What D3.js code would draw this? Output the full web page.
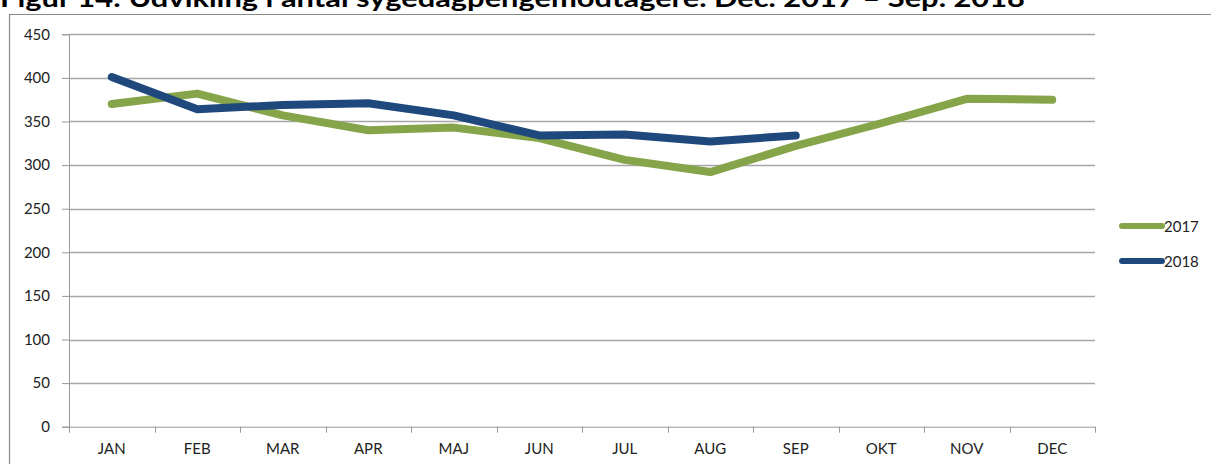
<!DOCTYPE html>
<html>
<head>
<meta charset="utf-8">
<script src="https://cdn.jsdelivr.net/npm/d3@7"></script>
<style>
  body { margin: 0; background: #fff; }
  svg { display: block; }
  .tick text { font-family: Lato, sans-serif; font-size: 15px; fill: #222; }
</style>
</head>
<body>
<script>
var W = 1211, H = 464;

var months = ["JAN","FEB","MAR","APR","MAJ","JUN","JUL","AUG","SEP","OKT","NOV","DEC"];
var v2017 = [370, 382, 357, 340, 343, 331, 306, 292, 322, 348, 376, 375];
var v2018 = [401, 364, 369, 371, 357, 334, 335, 327, 334];
var yTicks = [0, 50, 100, 150, 200, 250, 300, 350, 400, 450];
var seriesNames = ["2017", "2018"];
var colors = ["#86a44a", "#1f497d"];

// plot area edges (don't use "top" - clashes with window.top)
var plotL = 69, plotR = 1095, plotT = 34.3, plotB = 426.7;

var svg = d3.select("body").append("svg")
  .attr("width", W)
  .attr("height", H);

// title, cut off at top like the source
svg.append("text")
  .attr("x", 0)
  .attr("y", 7)
  .attr("textLength", 1025)
  .attr("lengthAdjust", "spacingAndGlyphs")
  .style("font-family", "Lato, sans-serif")
  .style("font-weight", "bold")
  .style("font-size", "24px")
  .text("Figur 14: Udvikling i antal sygedagpengemodtagere. Dec. 2017 – Sep. 2018");

// chart frame (top + left visible)
svg.append("path")
  .attr("d", "M9.5," + H + "V14.5H" + W)
  .attr("fill", "none")
  .attr("stroke", "#8a8a8a")
  .attr("stroke-width", 1.2);

var x = d3.scaleBand().domain(months).range([plotL, plotR]);
var y = d3.scaleLinear().domain([0, 450]).range([plotB, plotT]);

// gridlines
svg.append("g")
  .selectAll("line")
  .data(yTicks.filter(d => d > 0))
  .enter()
    .append("line")
    .attr("x1", plotL)
    .attr("x2", plotR)
    .attr("y1", d => Math.round(y(d)) + 0.5)
    .attr("y2", d => Math.round(y(d)) + 0.5)
    .attr("stroke", "#a6a6a6")
    .attr("stroke-width", 1.3);

// y axis
var yAxis = svg.append("g")
  .attr("transform", "translate(" + plotL + ",0)")
  .call(d3.axisLeft(y).tickValues(yTicks).tickSize(7).tickPadding(12));
yAxis.select(".domain").attr("stroke", "#999");
yAxis.selectAll(".tick line").attr("stroke", "#999");

// x axis with ticks between categories
var xAxis = svg.append("g")
  .attr("transform", "translate(0," + plotB + ")")
  .call(d3.axisBottom(x).tickSize(0).tickPadding(17));
xAxis.select(".domain").attr("stroke", "#999");

svg.append("g")
  .selectAll("line")
  .data(months.concat(["end"]))
  .enter()
    .append("line")
    .attr("x1", (d, i) => Math.round(plotL + i * x.step()) + 0.5)
    .attr("x2", (d, i) => Math.round(plotL + i * x.step()) + 0.5)
    .attr("y1", plotB)
    .attr("y2", plotB + 6)
    .attr("stroke", "#999");

// lines
var line = d3.line()
  .x((d, i) => x(months[i]) + x.bandwidth() / 2)
  .y(d => y(d));

[v2017, v2018].forEach((vals, k) => {
  svg.append("path")
    .datum(vals)
    .attr("d", line)
    .attr("fill", "none")
    .attr("stroke", colors[k])
    .attr("stroke-width", 8)
    .attr("stroke-linecap", "round")
    .attr("stroke-linejoin", "round");
});

// legend
var legend = svg.append("g")
  .selectAll("g")
  .data(seriesNames)
  .enter()
    .append("g")
    .attr("transform", (d, i) => "translate(1122," + (226 + i * 35) + ")");

legend.append("line")
  .attr("x1", 0)
  .attr("x2", 40)
  .attr("stroke", (d, i) => colors[i])
  .attr("stroke-width", 6)
  .attr("stroke-linecap", "round");

legend.append("text")
  .attr("x", 42)
  .attr("y", 5.5)
  .style("font-family", "Lato, sans-serif")
  .style("font-size", "15px")
  .attr("fill", "#222")
  .text(d => d);
</script>
</body>
</html>
